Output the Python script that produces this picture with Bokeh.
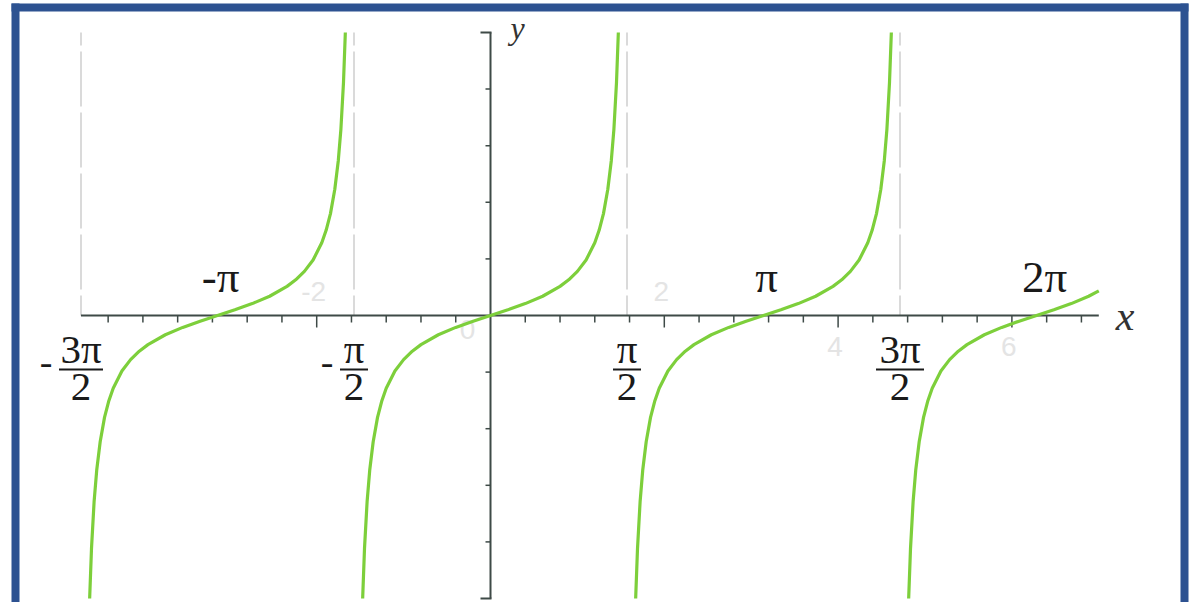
from bokeh.plotting import figure
from bokeh.models import Range1d
from bokeh.core.properties import value
from bokeh.embed import file_html
from bokeh.resources import INLINE

# ---- data: y = tan(x) ---------------------------------------------------
# one period of the curve, given as offsets from the branch centre (k*pi)
branch_offsets = [-1.4711, -1.45, -1.42, -1.39, -1.35, -1.30, -1.25, -1.20,
                  -1.10, -1.00, -0.90, -0.80, -0.60, -0.40, -0.20, 0.0,
                  0.20, 0.40, 0.60, 0.80, 0.90, 1.00, 1.10, 1.20, 1.25,
                  1.30, 1.35, 1.39, 1.42, 1.45, 1.4711]
branch_values = [-10.0, -8.24, -6.58, -5.47, -4.46, -3.60, -3.01, -2.57,
                 -1.96, -1.56, -1.26, -1.03, -0.68, -0.42, -0.20, 0.0,
                 0.20, 0.42, 0.68, 1.03, 1.26, 1.56, 1.96, 2.57, 3.01,
                 3.60, 4.46, 5.47, 6.58, 8.24, 10.0]
branch_centers = [-3.1416, 0.0, 3.1416]

# last branch, cut off at x = 7
tail_center = 6.2832
tail_offsets = branch_offsets[:19] + [0.7168]
tail_values = branch_values[:19] + [0.87]

# vertical asymptotes
asymptotes = [-4.7124, -1.5708, 1.5708, 4.7124]

# axis extents and ticks
x_min, x_max = -4.7124, 7.0
y_min, y_max = -10.0, 10.0
x_ticks = [-4.4, -4.0, -3.6, -3.2, -2.8, -2.4, -2.0, -1.6, -1.2, -0.8, -0.4,
           0.4, 0.8, 1.2, 1.6, 2.0, 2.4, 2.8, 3.2, 3.6, 4.0, 4.4, 4.8, 5.2,
           5.6, 6.0, 6.4, 6.8]
x_major = [-2.0, 0.0, 2.0, 4.0, 6.0]
y_ticks = [-8, -6, -4, -2, 2, 4, 6, 8]
y_ends = [-10, 10]

# faint numeric labels on the x axis
num_x = [-2.0, 0.0, 2.0, 4.0, 6.0]
num_text = ["-2", "0", "2", "4", "6"]
num_dx = [-3, -23, -3, -3, -3]
num_dy = [-24, 14, -24, 31, 31]

# pi labels above the axis
pi_x = [-3.1416, 3.1416, 6.2832]
pi_text = ["-π", "π", "2π"]
pi_dx = [3, 3, 8]

# fraction labels below the axis
frac_x = [-4.7124, -1.5708, 1.5708, 4.7124]
frac_num = ["3π", "π", "π", "3π"]
frac_sign = ["-", "-", "", ""]
frac_bar = [44, 28, 28, 48]

# ---- canvas geometry ------------------------------------------------------
W, H = 1195, 602
OX, OY = 490, 315          # pixel position of the origin
SX, SY = 86.9, 28.3        # pixels per unit


def dx(px):
    return (px - OX) / SX


def dy(py):
    return (OY - py) / SY


p = figure(width=W, height=H, x_range=Range1d(dx(0), dx(W)),
           y_range=Range1d(dy(H), dy(0)), x_axis_location=None,
           y_axis_location=None, toolbar_location=None,
           output_backend="svg", min_border=0, min_border_left=0,
           min_border_right=0, min_border_top=0, min_border_bottom=0)
p.grid.visible = False
p.outline_line_color = None
p.background_fill_color = "white"
p.border_fill_color = "white"

SERIF = value("Liberation Serif")
SANS = value("Liberation Sans")
INK = "#1a1a1a"
AXIS = "#3e4a47"
GREEN = "#7dcf3b"

# frame around the page
BLUE = "#2d5291"
p.quad(left=[dx(11), dx(11), dx(1180)], right=[dx(19), dx(1188), dx(1188)],
       top=[dy(3), dy(3), dy(3)], bottom=[dy(H), dy(11), dy(H)],
       fill_color=BLUE, line_color=None)

# dashed asymptotes (upper half)
for a in asymptotes:
    p.line([a, a], [y_max, 0], line_color="#dadada", line_width=2,
           line_dash="55 6", line_dash_offset=42)

# faint numeric tick labels
p.text(x=num_x, y=[0] * len(num_x), text=num_text, x_offset=num_dx,
       y_offset=num_dy, text_font=SANS, text_font_size="28px",
       text_color="#e4e4e4", text_align="center",
       text_baseline="alphabetic")

# axes
p.line([x_min, x_max], [0, 0], line_color=AXIS, line_width=2)
p.line([0, 0], [y_min, y_max], line_color=AXIS, line_width=2)

minor = [t for t in x_ticks if t not in x_major]
major = [t for t in x_ticks if t in x_major]
p.segment(x0=minor, y0=[0] * len(minor), x1=minor,
          y1=[dy(OY + 7)] * len(minor), line_color=AXIS, line_width=1.5)
p.segment(x0=major, y0=[0] * len(major), x1=major,
          y1=[dy(OY + 12)] * len(major), line_color=AXIS, line_width=1.5)
p.segment(x0=[dx(OX - 5)] * len(y_ticks), y0=y_ticks,
          x1=[0] * len(y_ticks), y1=y_ticks, line_color=AXIS, line_width=1.5)
p.segment(x0=[dx(OX - 10)] * 2, y0=y_ends, x1=[dx(OX + 1)] * 2, y1=y_ends,
          line_color=AXIS, line_width=2)

# the tangent branches
for c in branch_centers:
    p.line([c + o for o in branch_offsets], branch_values,
           line_color=GREEN, line_width=3.2)
p.line([tail_center + o for o in tail_offsets], tail_values,
       line_color=GREEN, line_width=3.2)

# pi labels above the axis
p.text(x=pi_x, y=[0] * len(pi_x), text=pi_text, x_offset=pi_dx,
       y_offset=-39, text_font=SERIF, text_font_size="45px",
       text_color=INK, text_align="center", text_baseline="alphabetic")

# fraction labels below the axis
n = len(frac_x)
p.text(x=frac_x, y=[0] * n, text=frac_num, y_offset=33, text_font=SERIF,
       text_font_size="41px", text_color=INK, text_align="center",
       text_baseline="alphabetic")
p.text(x=frac_x, y=[0] * n, text=["2"] * n, y_offset=71, text_font=SERIF,
       text_font_size="41px", text_color=INK, text_align="center",
       text_baseline="alphabetic")
p.rect(x=frac_x, y=[dy(OY + 54)] * n, width=frac_bar, height=2,
       width_units="screen", height_units="screen", fill_color=INK,
       line_color=None)
p.text(x=frac_x, y=[0] * n, text=frac_sign,
       x_offset=[-(w / 2 + 13) for w in frac_bar], y_offset=47,
       text_font=SERIF, text_font_size="38px", text_color=INK,
       text_align="center", text_baseline="alphabetic")

# axis names
p.text(x=[x_max], y=[0], text=["x"], x_offset=17, y_offset=0,
       text_font=SERIF, text_font_style="italic", text_font_size="42px",
       text_color="#333333", text_align="left", text_baseline="alphabetic")
p.text(x=[0], y=[y_max], text=["y"], x_offset=20, y_offset=-5,
       text_font=SERIF, text_font_style="italic", text_font_size="32px",
       text_color="#333333", text_align="left", text_baseline="alphabetic")

open("out.html", "w").write(file_html(p, INLINE))
